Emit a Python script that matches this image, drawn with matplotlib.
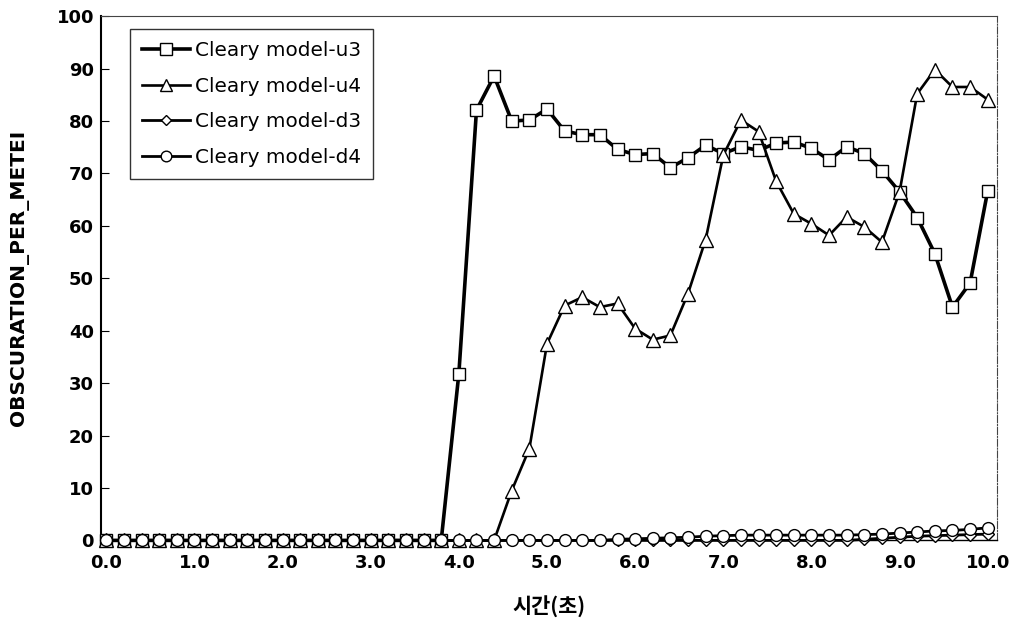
import numpy as np
import matplotlib.pyplot as plt

plt.rcParams["font.family"] = ["DejaVu Sans", "Noto Sans CJK KR"]

# time in seconds, 0.0 .. 10.0 step 0.2
time_s = np.round(np.arange(51) * 0.2, 1)

u3 = [0] * 20 + [
    31.8, 82.1, 88.6, 80.0, 80.2, 82.3, 78.1, 77.4, 77.4, 74.6,
    73.6, 73.8, 71.1, 73.0, 75.4, 73.8, 75.1, 74.4, 75.8, 76.0,
    74.8, 72.6, 75.1, 73.8, 70.5, 66.5, 61.6, 54.7, 44.5, 49.1,
    66.7,
]
u4 = [0] * 23 + [
    9.5, 17.5, 37.5, 44.8, 46.4, 44.5, 45.2, 40.4, 38.3, 39.1,
    47.1, 57.4, 73.5, 80.2, 78.0, 68.5, 62.3, 60.4, 58.2, 61.7,
    59.8, 56.9, 66.5, 85.2, 89.8, 86.5, 86.5, 84.1,
]
d3 = [0] * 43 + [0.2, 0.4, 0.6, 0.8, 0.9, 1.0, 1.1, 1.2]
d4 = [0] * 29 + [
    0.2, 0.3, 0.4, 0.5, 0.6, 0.8, 0.9, 1.0, 1.0, 1.0,
    1.0, 1.0, 1.0, 1.0, 1.1, 1.2, 1.4, 1.6, 1.8, 1.9,
    2.1, 2.4,
]

series = [
    ("Cleary model-u3", u3, "s", 9, 2.6),
    ("Cleary model-u4", u4, "^", 10, 1.9),
    ("Cleary model-d3", d3, "D", 6, 2.0),
    ("Cleary model-d4", d4, "o", 8.5, 2.0),
]

fig = plt.figure(figsize=(10.2, 6.24), dpi=100)
ax = fig.add_axes([0.099, 0.134, 0.878, 0.84])

for label, vals, marker, ms, lw in series:
    ax.plot(time_s, vals, color="black", linewidth=lw, marker=marker,
            markersize=ms, markerfacecolor="white", markeredgecolor="black",
            markeredgewidth=1.0, label=label, clip_on=False, zorder=3)

ax.set_xlim(-0.06, 10.1)
ax.set_ylim(0, 100)
ax.set_xticks(np.arange(0, 11, 1))
ax.set_xticklabels([f"{v:.1f}" for v in np.arange(0, 11, 1)])
ax.set_yticks(np.arange(0, 101, 10))

ax.tick_params(axis="x", length=0, pad=10, labelsize=13)
ax.tick_params(axis="y", direction="in", length=6, pad=5, labelsize=13)
for t in ax.get_xticklabels() + ax.get_yticklabels():
    t.set_fontweight("bold")

ax.spines["left"].set_linewidth(1.5)
ax.spines["bottom"].set_linewidth(1.0)
ax.spines["top"].set_linewidth(0.8)
ax.spines["top"].set_linestyle((0, (6, 1)))
ax.spines["top"].set_color("#444444")
ax.spines["right"].set_linewidth(0.8)
ax.spines["right"].set_linestyle("-.")
ax.spines["right"].set_color("#444444")

ax.set_xlabel("시간(초)", fontsize=15, fontweight="bold", labelpad=17,
              family=["Noto Sans CJK KR", "DejaVu Sans"])
ax.set_ylabel("OBSCURATION_PER_METEI", fontsize=14.5, fontweight="bold", labelpad=20)

leg = ax.legend(loc="upper left", bbox_to_anchor=(0.032, 0.975), fontsize=14.4,
                frameon=True, fancybox=False, edgecolor="black",
                handlelength=2.4, handletextpad=0.25, labelspacing=0.82,
                borderpad=0.6, borderaxespad=0.0, markerscale=0.9)
leg.get_frame().set_linewidth(1.0)

fig.savefig("out.png", dpi=100)
